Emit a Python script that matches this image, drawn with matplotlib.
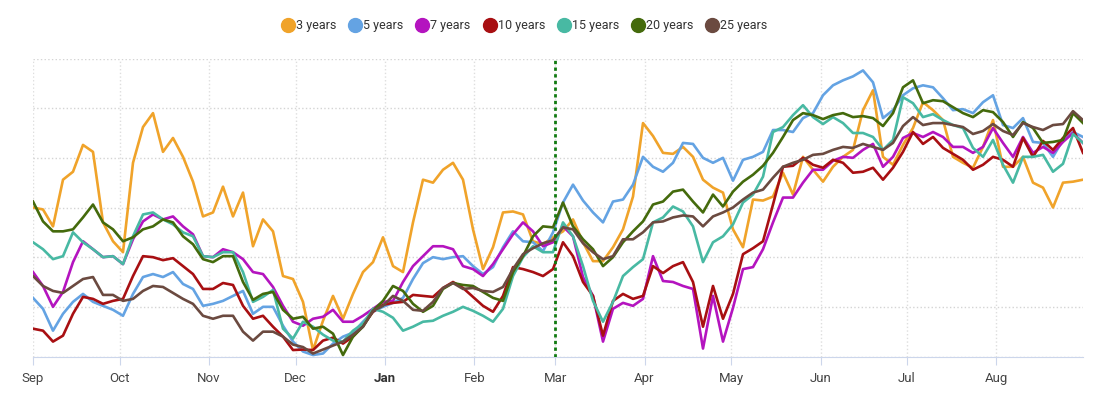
import matplotlib
matplotlib.use("Agg")
import matplotlib.pyplot as plt
from matplotlib.lines import Line2D
import pandas as pd

# daily series at an even step (Sep 1 -> Aug 31)
dates = pd.date_range("2022-09-01", "2023-08-31", periods=106)

y3 = [150, 148, 131, 178, 186, 213, 206, 135, 116, 105, 195, 231, 245, 206, 220, 201, 176, 141, 145, 171, 141, 165,
      111, 138, 126, 81, 78, 55, 6.5, 36, 61, 38, 63, 85, 95, 120, 91, 85, 135, 178, 175, 188,
      195,
      178, 128, 88, 110, 145, 146, 143, 116, 113, 120, 126, 138, 115, 96, 96, 110, 128, 161, 235, 222,
      205,
      204, 211, 201, 178, 170, 165, 128, 110, 158, 157, 161, 185, 163, 201, 188, 176, 191, 201, 208, 248,
      268,
      201, 193, 213, 230, 256, 248, 238, 201, 195, 190, 211, 238, 191, 191, 201, 175, 170, 150, 175, 176, 178]

y5 = [59, 48, 26, 43, 55, 63, 55, 51, 47, 41, 63, 80, 83, 80, 85, 73, 68, 51, 53, 56, 61, 66,
      43, 50, 50, 31, 15, 5, 1.5, 3, 13, 20, 24, 35, 45, 50, 54, 59, 78, 94, 100, 98,
      100,
      101, 91, 83, 90, 110, 126, 116, 115, 106, 125, 155, 173, 157, 145, 135, 156, 158, 173, 201, 191,
      186,
      195, 215, 214, 200, 195, 200, 177, 198, 201, 206, 228, 228, 226, 240, 245, 263, 273, 278, 282, 288,
      276,
      240, 248, 263, 270, 273, 271, 260, 248, 249, 245, 256, 263, 233, 230, 240, 216, 215, 201, 218, 226, 221]

y7 = [85, 71, 50, 65, 95, 116, 108, 100, 101, 93, 118, 136, 143, 138, 141, 131, 123, 101, 100, 108, 105, 98,
      85, 83, 70, 51, 35, 31, 38, 40, 47, 35, 35, 41, 48, 55, 56, 75, 91, 101, 111, 111,
      108,
      91, 88, 81, 93, 108, 123, 135, 126, 111, 115, 131, 121, 80, 61, 15, 48, 54, 51, 58, 101,
      76,
      75, 71, 68, 8, 61, 15, 49, 88, 90, 108, 135, 160, 160, 175, 188, 188, 197, 201, 200, 208,
      214,
      191, 201, 220, 225, 221, 226, 221, 211, 211, 205, 211, 230, 215, 201, 221, 205, 211, 205, 216, 225, 215]

y10 = [28, 26, 15, 21, 43, 60, 58, 53, 56, 58, 81, 101, 100, 97, 99, 91, 83, 68, 68, 74, 72, 51,
       38, 41, 30, 20, 6.5, 7, 6.5, 16, 19, 13, 20, 31, 45, 52, 54, 55, 62, 61, 60, 69,
       75,
       69, 60, 51, 45, 61, 90, 88, 85, 81, 88, 115, 101, 75, 61, 21, 56, 63, 58, 61, 91,
       84,
       91, 95, 75, 30, 71, 38, 63, 103, 109, 116, 153, 191, 192, 200, 193, 190, 198, 195, 185, 186,
       190,
       178, 190, 206, 226, 214, 221, 210, 204, 198, 188, 193, 201, 198, 191, 220, 201, 217, 208, 220, 230, 205]

y15 = [115, 108, 98, 101, 125, 115, 108, 100, 101, 93, 121, 143, 145, 138, 133, 125, 121, 101, 100, 105, 105, 85,
       55, 60, 67, 28, 18, 35, 30, 22, 16, 15, 26, 33, 48, 45, 39, 26, 30, 35, 36, 41,
       45,
       50, 46, 41, 35, 48, 81, 100, 111, 105, 105, 135, 121, 91, 56, 35, 55, 81, 90, 98, 135,
       140,
       151, 146, 131, 95, 115, 121, 133, 155, 163, 181, 226, 231, 243, 253, 241, 234, 241, 235, 225, 225,
       221,
       208, 218, 261, 255, 241, 244, 238, 233, 230, 210, 201, 218, 193, 175, 201, 201, 203, 186, 194, 224, 215]

y20 = [156, 136, 126, 126, 128, 140, 153, 135, 128, 116, 120, 128, 131, 138, 135, 121, 113, 98, 95, 101, 101, 75,
       57, 63, 65, 47, 38, 40, 28, 30, 23, 1.5, 20, 30, 46, 56, 71, 66, 53, 45, 51, 68,
       74,
       72, 71, 65, 59, 56, 85, 101, 121, 131, 130, 155, 131, 118, 108, 91, 100, 115, 126, 136, 153,
       156,
       166, 168, 156, 145, 163, 151, 166, 176, 183, 192, 205, 221, 238, 245, 243, 239, 243, 245, 241, 242,
       240,
       232, 245, 271, 278, 255, 258, 257, 251, 245, 241, 248, 246, 236, 221, 236, 230, 215, 216, 218, 245, 235]

y25 = [81, 71, 66, 64, 71, 78, 80, 62, 62, 56, 58, 66, 71, 70, 64, 58, 53, 41, 38, 41, 41, 25,
       16, 25, 25, 20, 12, 9.5, 3, 7, 11, 15, 22, 30, 46, 51, 61, 56, 47, 46, 55, 69,
       74,
       68, 69, 66, 65, 70, 88, 103, 109, 114, 117, 130, 128, 114, 105, 98, 101, 118, 118, 125, 135,
       136,
       140, 142, 141, 131, 141, 145, 150, 158, 165, 168, 180, 191, 195, 198, 203, 204, 208, 211, 210, 214,
       211,
       208, 215, 232, 241, 233, 235, 235, 233, 231, 224, 227, 234, 227, 223, 235, 231, 228, 233, 234, 247, 238]

names = ["3 years", "5 years", "7 years", "10 years", "15 years", "20 years", "25 years"]
colors = ["#f0a32a", "#64a3e3", "#b414bf", "#a80f12", "#48b9a3", "#446a0c", "#6b4a40"]
months = ["Sep", "Oct", "Nov", "Dec", "Jan", "Feb", "Mar", "Apr", "May", "Jun", "Jul", "Aug"]

plt.rcParams["font.family"] = ["Roboto", "DejaVu Sans"]

fig = plt.figure(figsize=(11.06, 3.93), dpi=100)
ax = fig.add_axes([33 / 1106, 36.5 / 393, 1050 / 1106, 298 / 393])

for vals, col in zip([y3, y5, y7, y10, y15, y20, y25], colors):
    ax.plot(dates, vals, color=col, lw=1.9, solid_joinstyle="round", zorder=3)

ax.axvline(pd.Timestamp("2023-03-01"), color="#117a11", lw=2, ls=(0, (1.2, 1.2)), zorder=4)

ax.set_xlim(pd.Timestamp("2022-09-01"), pd.Timestamp("2023-08-31"))
ax.set_ylim(0, 300)
ax.set_yticks(range(0, 301, 50))
ax.yaxis.grid(True, linestyle=":", color="#d4d4d4", lw=1)
ax.tick_params(axis="y", length=0, labelleft=False)

ticks = pd.date_range("2022-09-01", "2023-08-01", freq="MS")
ax.set_xticks(ticks)
ax.set_xticklabels(months)
ax.xaxis.grid(True, linestyle=":", color="#dedede", lw=1)
ax.tick_params(axis="x", length=6, color="#ccd6eb", labelsize=9.5, labelcolor="#444444", pad=5)
for lab in ax.get_xticklabels():
    if lab.get_text() == "Jan":
        lab.set_fontweight("bold")
        lab.set_color("#333333")

for s in ["top", "right", "left"]:
    ax.spines[s].set_visible(False)
ax.spines["bottom"].set_color("#ccd6eb")

handles = [Line2D([], [], marker="o", ls="", markersize=10, color=c) for c in colors]
fig.legend(handles, names, loc="center", bbox_to_anchor=(524 / 1106, 1 - 26 / 393), ncol=7,
           frameon=False, fontsize=9, handletextpad=0.05, columnspacing=0.9, handlelength=1.2,
           labelcolor="#333333")

fig.savefig("out.png", dpi=100)
